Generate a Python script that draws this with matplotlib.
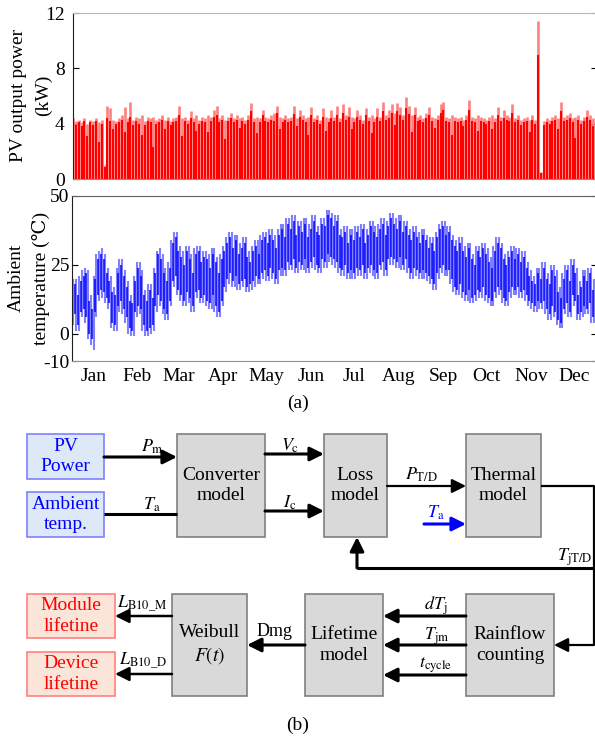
import matplotlib.pyplot as plt
import numpy as np
from matplotlib.patches import Rectangle

plt.rcParams['font.family'] = ['Liberation Serif', 'DejaVu Serif']
plt.rcParams['mathtext.fontset'] = 'stix'
plt.rcParams['axes.unicode_minus'] = False

# ---- data (one value every 2 days) ----
months = ['Jan', 'Feb', 'Mar', 'Apr', 'May', 'Jun',
          'Jul', 'Aug', 'Sep', 'Oct', 'Nov', 'Dec']
month_mid_day = [15, 45, 74, 105, 135, 166, 196, 227, 258, 288, 319, 349]

# PV output power daily peaks (kW): light red / dark red
pv_light = [
    4.4, 4.2, 4.3, 4.1, 4.4, 4.0, 4.3, 4.2, 4.4, 4.1, 4.3, 1.0, 5.3, 5.1, 4.3, 4.2,
    4.4, 4.6, 5.2, 4.4, 5.6, 4.3, 4.5, 4.4, 4.6, 4.2, 4.5, 4.4, 4.5, 4.3,
    4.4, 4.6, 4.3, 4.5, 4.2, 4.4, 4.5, 5.3, 4.4, 4.5, 4.3, 4.9, 4.4, 4.6, 4.3,
    4.5, 4.4, 4.6, 4.5, 5.0, 5.3, 4.4, 4.6, 4.3, 4.5, 4.8, 4.4, 4.6, 4.4, 4.5,
    4.3, 4.6, 5.5, 4.4, 4.5, 4.4, 5.0, 4.5, 4.4, 4.6, 4.8, 5.3, 4.5, 4.4, 4.6, 4.4,
    4.5, 5.3, 4.4, 5.0, 4.6, 4.4, 4.5, 5.2, 4.4, 4.6, 4.3, 5.1, 4.5, 4.4, 5.0,
    4.5, 5.3, 4.4, 5.4, 4.6, 5.2, 4.5, 4.4, 5.0, 4.6, 4.3, 5.1, 4.5, 4.6, 4.4,
    5.1, 4.5, 5.6, 4.6, 5.0, 5.4, 4.8, 5.5, 5.2, 4.6, 5.9, 5.3, 4.6, 5.2, 4.5, 4.6,
    4.4, 4.8, 5.2, 4.5, 4.4, 4.6, 5.4, 5.6, 4.5, 4.4, 4.6, 4.5, 4.4, 4.5, 4.3,
    4.6, 5.7, 4.5, 4.4, 4.6, 4.5, 4.4, 4.3, 4.5, 4.6, 4.4, 5.2, 4.5, 5.0, 4.6,
    4.5, 5.4, 4.4, 4.6, 4.3, 4.4, 4.5, 4.3, 4.6, 4.3, 11.4, 0.5, 4.2, 4.4, 4.3,
    4.5, 4.6, 4.4, 5.6, 4.5, 4.6, 4.8, 4.4, 4.5, 4.6, 4.3, 4.5, 5.0, 4.6, 4.4, 4.5,
]
pv_dark = [
    4.1, 3.9, 4.1, 3.8, 4.2, 3.1, 4.1, 3.9, 4.2, 2.7, 4.0, 0.9, 4.4, 4.2, 3.6, 4.0,
    4.1, 4.3, 3.4, 4.1, 4.5, 3.9, 4.2, 4.0, 3.2, 3.9, 4.2, 4.1, 2.3, 4.0,
    4.1, 4.3, 3.6, 4.2, 3.9, 4.1, 4.2, 4.6, 3.1, 4.2, 4.0, 4.4, 4.1, 3.5, 4.0,
    4.2, 4.1, 3.4, 4.2, 4.5, 4.6, 4.1, 4.3, 2.9, 4.2, 4.4, 4.1, 4.3, 3.7, 4.2,
    4.0, 4.3, 4.9, 4.1, 3.3, 4.1, 4.6, 4.2, 4.1, 4.3, 4.2, 4.8, 3.6, 4.1, 4.3, 4.1,
    4.2, 4.7, 3.8, 4.5, 4.3, 4.1, 3.2, 4.6, 4.1, 4.3, 4.0, 4.5, 3.5, 4.1, 4.4,
    4.2, 4.6, 4.1, 4.8, 4.3, 4.5, 3.6, 4.1, 4.5, 4.3, 4.0, 4.6, 4.2, 3.3, 4.1,
    4.5, 4.2, 4.9, 4.3, 4.4, 4.8, 3.9, 4.9, 4.6, 4.3, 5.1, 4.7, 3.4, 4.6, 4.2, 4.3,
    4.1, 4.4, 4.6, 4.2, 3.7, 4.3, 4.8, 5.0, 4.2, 4.1, 3.2, 4.2, 4.1, 4.2, 3.8,
    4.3, 5.0, 4.2, 4.1, 3.5, 4.2, 4.1, 4.0, 4.2, 3.6, 4.1, 4.6, 4.2, 4.4, 4.3,
    4.2, 4.8, 4.1, 4.3, 3.9, 4.1, 4.2, 3.4, 4.3, 4.0, 9.0, 0.4, 3.9, 4.1, 4.0,
    4.2, 4.3, 3.6, 4.9, 4.2, 4.3, 4.4, 4.1, 3.0, 4.3, 4.0, 4.2, 4.5, 4.3, 3.8, 4.2,
]

# ambient temperature (deg C): dark blue daily high / low
t_high = [
    16, 18, 14, 19, 21, 22, 12, 9, 20, 27, 29, 27, 22, 19, 15, 14,
    22, 25, 21, 17, 12, 11, 19, 24, 21, 14, 12, 16, 13, 22,
    29, 27, 22, 19, 24, 33, 35, 30, 28, 25, 30, 27, 22, 29, 30,
    26, 28, 27, 24, 29, 26, 22, 27, 30, 33, 35, 31, 34, 29, 31,
    33, 28, 26, 30, 32, 29, 34, 35, 33, 36, 34, 31, 36, 38, 35, 40,
    38, 41, 36, 39, 37, 40, 35, 38, 41, 37, 36, 40, 39, 43, 42,
    39, 41, 36, 35, 37, 33, 36, 34, 37, 35, 38, 33, 36, 39, 37,
    35, 38, 40, 36, 39, 42, 40, 38, 41, 37, 39, 36, 34, 37, 35, 33,
    36, 34, 31, 33, 30, 35, 38, 39, 36, 37, 34, 32, 30, 33, 30,
    28, 31, 27, 25, 30, 28, 31, 29, 26, 24, 30, 33, 31, 27, 25,
    28, 30, 27, 29, 26, 28, 24, 21, 19, 18, 22, 20, 24, 20, 18,
    23, 21, 15, 13, 20, 23, 19, 25, 22, 14, 17, 21, 19, 22, 16, 18,
]
t_low = [
    5, 7, 3, 8, 9, 6, 0, -2, 8, 14, 16, 15, 13, 11, 4, 3,
    10, 12, 9, 6, 2, 1, 8, 10, 9, 3, 1, 2, 3, 10,
    14, 12, 9, 7, 12, 19, 21, 16, 14, 12, 15, 13, 10, 15, 16,
    13, 14, 12, 11, 14, 10, 8, 12, 17, 20, 22, 19, 21, 18, 19,
    20, 17, 18, 19, 21, 20, 22, 23, 21, 24, 22, 20, 23, 24, 23, 26,
    25, 27, 24, 26, 25, 27, 24, 26, 28, 25, 24, 27, 26, 29, 28,
    27, 26, 24, 23, 25, 22, 23, 22, 24, 23, 25, 22, 24, 25, 23,
    22, 25, 26, 23, 27, 28, 27, 26, 28, 25, 27, 24, 22, 24, 23, 22,
    23, 22, 21, 20, 18, 22, 24, 25, 23, 23, 20, 17, 16, 18, 15,
    14, 16, 13, 14, 16, 15, 17, 14, 13, 12, 15, 17, 16, 13, 12,
    15, 17, 16, 17, 15, 16, 14, 12, 11, 10, 12, 11, 12, 9, 7,
    10, 8, 5, 4, 9, 11, 8, 14, 12, 7, 8, 10, 9, 11, 6, 8,
]
# light blue envelope (between the dark strokes)
tl_high = [
    20, 20, 21, 23, 24, 23, 14, 21, 29, 30, 31, 29, 24, 21, 17, 24,
    27, 27, 23, 19, 14, 21, 26, 26, 23, 16, 18, 18, 24, 30,
    31, 29, 24, 26, 34, 37, 37, 32, 30, 32, 32, 29, 31, 32, 32,
    30, 30, 29, 31, 31, 28, 29, 32, 35, 37, 37, 36, 36, 33, 35,
    35, 30, 32, 34, 34, 36, 37, 37, 38, 38, 36, 38, 40, 40, 42, 42,
    43, 43, 41, 41, 42, 42, 40, 43, 43, 39, 42, 42, 45, 45, 44,
    43, 43, 38, 39, 39, 38, 38, 39, 39, 40, 40, 38, 41, 41, 39,
    40, 42, 42, 41, 44, 44, 42, 43, 43, 41, 41, 38, 39, 39, 37, 38,
    38, 36, 35, 35, 37, 40, 41, 41, 39, 39, 36, 34, 35, 35, 32,
    33, 33, 29, 32, 32, 33, 33, 31, 28, 32, 35, 35, 33, 29, 30,
    32, 32, 31, 31, 30, 30, 26, 23, 21, 24, 24, 26, 26, 22, 25,
    25, 23, 17, 22, 25, 25, 27, 27, 24, 19, 23, 23, 24, 24, 20, 20,
]
tl_low = [
    3, 1, 1, 6, 4, -2, -4, -6, 6, 12, 13, 11, 9, 2, 1, 1,
    8, 7, 4, 0, -1, -1, 6, 7, 1, -1, -1, 0, 1, 8,
    10, 7, 5, 5, 10, 17, 14, 12, 10, 10, 11, 8, 8, 13, 11,
    11, 10, 9, 9, 8, 6, 6, 10, 15, 18, 17, 17, 16, 16, 17,
    15, 15, 16, 17, 18, 18, 20, 19, 19, 20, 18, 18, 21, 21, 21, 23,
    23, 22, 22, 23, 23, 22, 22, 24, 23, 22, 22, 24, 24, 26, 25,
    24, 22, 21, 21, 20, 20, 20, 20, 21, 21, 20, 20, 22, 21, 20,
    20, 23, 21, 21, 25, 25, 24, 24, 23, 23, 22, 20, 20, 21, 20, 20,
    20, 19, 18, 16, 16, 20, 22, 21, 21, 18, 15, 14, 14, 13, 12,
    12, 11, 11, 12, 13, 13, 12, 11, 10, 10, 13, 14, 11, 10, 10,
    13, 14, 14, 13, 13, 12, 10, 9, 8, 8, 9, 9, 7, 5, 5,
    6, 3, 2, 2, 7, 6, 6, 10, 5, 5, 6, 7, 7, 4, 4, 6,
]

# ---- figure ----
W, H = 595, 747
fig = plt.figure(figsize=(W / 100, H / 100), dpi=100)


def fig_rect(x0, y0, x1, y1):
    return [x0 / W, 1 - y1 / H, (x1 - x0) / W, (y1 - y0) / H]


def style_axes(ax, pad):
    ax.tick_params(axis='y', direction='in', left=True, right=True,
                   length=4, width=0.8, labelsize=14, pad=pad)
    ax.tick_params(axis='x', length=0, labelsize=14, pad=5)
    for s in ['top', 'bottom', 'right']:
        ax.spines[s].set_color('#909090')
    ax.spines['left'].set_color('#202020')
    ax.set_xlim(0, 365)


# PV output power
ax1 = fig.add_axes(fig_rect(73, 13, 597, 179))
d_pv_l = np.arange(len(pv_light)) * 2
d_pv_d = np.arange(len(pv_dark)) * 2
ax1.vlines(d_pv_l, 0, pv_light, color='#ff8080', lw=1.9)
ax1.vlines(d_pv_d, 0, pv_dark, color='#ff0000', lw=1.5)
ax1.set_ylim(0, 12)
ax1.set_yticks([0, 4, 8, 12])
ax1.set_xticks([])
style_axes(ax1, 6)
ax1.spines['top'].set_color('#b8b8b8')
fig.text(31 / W, 1 - 95 / H, 'PV output power\n(kW)', rotation=90,
         ha='center', va='center', fontsize=14, linespacing=1.55)

# ambient temperature
ax2 = fig.add_axes(fig_rect(72, 196, 597, 361))
d_tl = np.arange(len(tl_high)) * 2 + 1
d_t = np.arange(len(t_high)) * 2
ax2.vlines(d_tl, tl_low, tl_high, color='#8080ff', lw=1.5)
ax2.vlines(d_t, t_low, t_high, color='#0000ff', lw=1.1)
ax2.set_ylim(-10, 50)
ax2.set_yticks([-10, 0, 25, 50])
ax2.set_xticks(month_mid_day)
ax2.set_xticklabels(months)
style_axes(ax2, 2)
ax2.spines['top'].set_color('#606060')
fig.text(29 / W, 1 - 278 / H, 'Ambient\ntemperature (\u2103)', rotation=90,
         ha='center', va='center', fontsize=14, linespacing=1.55)

fig.text(298 / W, 1 - 403 / H, '(a)', ha='center', va='center', fontsize=14)
fig.text(298 / W, 1 - 725 / H, '(b)', ha='center', va='center', fontsize=14)

# ---- block diagram (pixel coordinates) ----
dg = fig.add_axes([0, 0, 1, 1], zorder=-1)
dg.set_xlim(0, W)
dg.set_ylim(H, 0)
dg.axis('off')

GRAY = ('#d9d9d9', '#808080', 'black')
BLUE = ('#dde9f7', '#8080ff', '#0000ff')
RED = ('#fbe5d9', '#ff8080', '#ff0000')


def box(x0, y0, x1, y1, text, style):
    fc, ec, tc = style
    dg.add_patch(Rectangle((x0, y0), x1 - x0, y1 - y0, fc=fc, ec=ec, lw=1.2))
    dg.text((x0 + x1) / 2, (y0 + y1) / 2, text, ha='center', va='center',
            fontsize=14, color=tc, linespacing=1.25)


def arrow(p0, p1, color='black', lw=2.2):
    dg.annotate('', xy=p1, xytext=p0,
                arrowprops=dict(arrowstyle='-|>,head_length=0.6,head_width=0.3',
                                color=color, lw=lw, mutation_scale=14,
                                shrinkA=0, shrinkB=0))


def line(xs, ys, lw=2.2):
    dg.plot(xs, ys, color='black', lw=lw, solid_capstyle='butt')


def label(x, y, s, color='black', size=13):
    dg.text(x, y, s, ha='center', va='center', fontsize=size, color=color)


box(27, 434, 104, 479, 'PV\nPower', BLUE)
box(27, 492, 104, 537, 'Ambient\ntemp.', BLUE)
box(177, 434, 265, 537, 'Converter\nmodel', GRAY)
box(324, 434, 387, 537, 'Loss\nmodel', GRAY)
box(466, 434, 541, 537, 'Thermal\nmodel', GRAY)
box(27, 594, 115, 638, 'Module\nlifetine', RED)
box(27, 652, 115, 696, 'Device\nlifetine', RED)
box(172, 594, 247, 696, 'Weibull\n$F(t)$', GRAY)
box(305, 594, 383, 696, 'Lifetime\nmodel', GRAY)
box(466, 594, 554, 696, 'Rainflow\ncounting', GRAY)

arrow((104, 457), (177, 457))
line([104, 177], [514, 514])
arrow((265, 454), (324, 454))
arrow((265, 511), (324, 511))
arrow((387, 486), (466, 486), lw=1.6)
arrow((424, 524), (466, 524), color='#0000ff')
line([541, 594, 594], [486, 486, 645], lw=1.6)
arrow((594, 645), (554, 645), lw=1.6)
line([594, 357], [568, 568])
arrow((357, 568), (357, 537))
arrow((466, 616), (383, 616))
arrow((466, 645), (383, 645))
arrow((466, 675), (383, 675))
arrow((305, 645), (247, 645))
arrow((172, 616), (115, 616), lw=1.8)
arrow((172, 674), (115, 674), lw=1.8)

label(152, 447, r'$P_\mathrm{m}$')
label(152, 505, r'$T_\mathrm{a}$')
label(290, 446, r'$V_\mathrm{c}$')
label(290, 503, r'$I_\mathrm{c}$')
label(421, 475, r'$P_\mathrm{T/D}$')
label(436, 513, r'$T_\mathrm{a}$', color='#0000ff')
label(575, 557, r'$T_\mathrm{jT/D}$')
label(436, 606, r'$dT_\mathrm{j}$')
label(437, 636, r'$T_\mathrm{jm}$')
label(436, 665, r'$t_\mathrm{cycle}$')
label(275, 632, 'Dmg')
label(142, 604, r'$L_\mathrm{B10\_M}$')
label(143, 661, r'$L_\mathrm{B10\_D}$')

fig.savefig('out.png', dpi=100)
